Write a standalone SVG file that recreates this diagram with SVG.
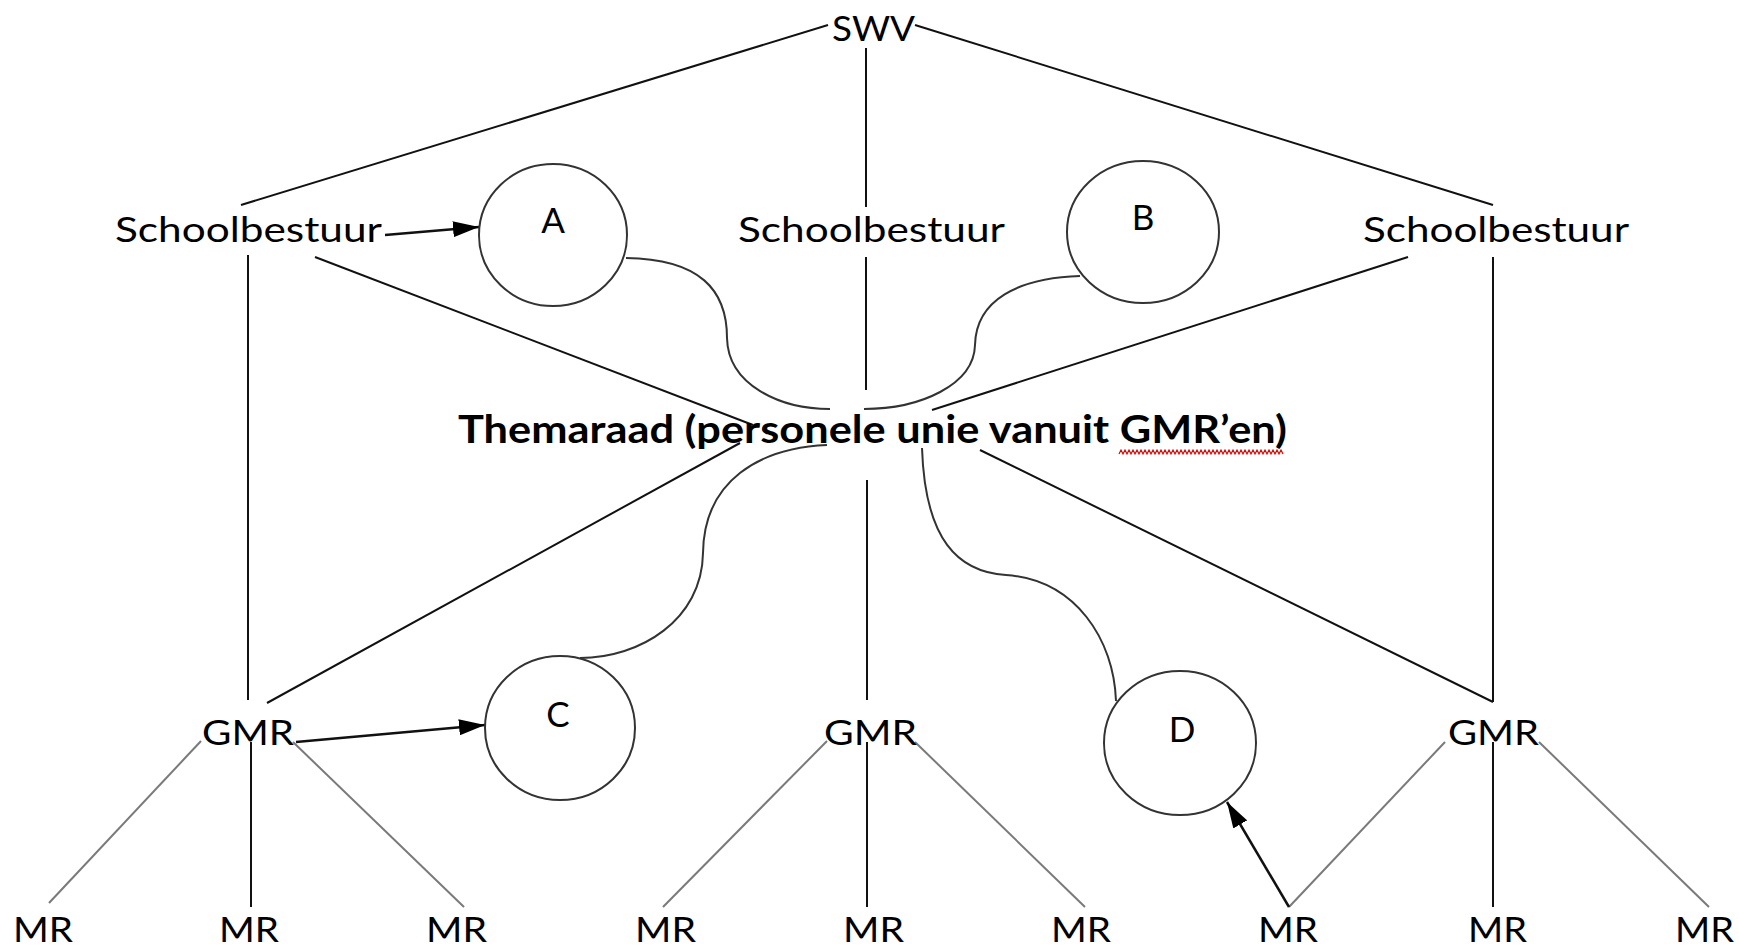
<svg xmlns="http://www.w3.org/2000/svg" width="1739" height="947" viewBox="0 0 1739 947">
<style>
.t{font-family:Lato,"Liberation Sans",sans-serif;font-size:35px;fill:#000}
.tb{font-family:Lato,"Liberation Sans",sans-serif;font-size:39px;font-weight:bold;fill:#000}
.ln{stroke:#111;stroke-width:2;fill:none}
.gr{stroke:#7a7a7a;stroke-width:2;fill:none}
.cv{stroke:#333;stroke-width:2;fill:none}
.ci{stroke:#333;stroke-width:2;fill:#fff}
.ar{stroke:#111;stroke-width:2.5;fill:none;marker-end:url(#ah)}
</style>
<defs>
<marker id="ah" markerUnits="userSpaceOnUse" markerWidth="26" markerHeight="16" refX="26" refY="8" orient="auto">
<path d="M0,0 L26,8 L0,16 z" fill="#000"/>
</marker>
</defs>
<rect width="1739" height="947" fill="#fff"/>
<g id="connectors">
<line class="ln" x1="828" y1="25" x2="241" y2="205"/>
<line class="ln" x1="866" y1="48" x2="866" y2="207"/>
<line class="ln" x1="915" y1="25" x2="1493" y2="205"/>
<line class="ln" x1="866" y1="257" x2="866" y2="390"/>
<line class="ln" x1="248" y1="255" x2="248" y2="700"/>
<line class="ln" x1="315" y1="257" x2="753" y2="425"/>
<line class="ln" x1="1408" y1="257" x2="932" y2="410"/>
<line class="ln" x1="1493" y1="257" x2="1493" y2="702"/>
<line class="ln" x1="740" y1="443" x2="267" y2="703"/>
<line class="ln" x1="867" y1="480" x2="867" y2="700"/>
<line class="ln" x1="980" y1="450" x2="1493" y2="702"/>
<line class="ln" x1="251" y1="742" x2="251" y2="907"/>
<line class="ln" x1="867" y1="742" x2="867" y2="907"/>
<line class="ln" x1="1493" y1="742" x2="1493" y2="907"/>
<line class="gr" x1="201" y1="741" x2="49" y2="903"/>
<line class="gr" x1="293" y1="742" x2="464" y2="907"/>
<line class="gr" x1="827" y1="741" x2="663" y2="907"/>
<line class="gr" x1="915" y1="742" x2="1085" y2="907"/>
<line class="gr" x1="1445" y1="742" x2="1289" y2="907"/>
<line class="gr" x1="1539" y1="742" x2="1709" y2="907"/>
<path class="cv" d="M626,258 C700,259 727,290 727,338 C728,385 780,409 830,409"/>
<path class="cv" d="M1080,276 C1018,278 976,300 975,345 C974,385 920,409 864,409"/>
<path class="cv" d="M827,445 C760,448 704,480 703,553 C702,620 640,658 580,658"/>
<path class="cv" d="M922,448 C925,540 958,572 1006,575 C1076,580 1114,640 1116,701"/>
<line class="ar" x1="385" y1="235" x2="479" y2="227"/>
<line class="ar" x1="296" y1="742" x2="485" y2="725"/>
<line class="ar" x1="1289" y1="907" x2="1227" y2="802"/>
</g>
<g id="swv"><text class="t" x="832" y="41" textLength="83" lengthAdjust="spacingAndGlyphs">SWV</text></g>
<g id="sb1"><text class="t" x="115" y="242" textLength="267" lengthAdjust="spacingAndGlyphs">Schoolbestuur</text></g>
<g id="sb2"><text class="t" x="738" y="242" textLength="267" lengthAdjust="spacingAndGlyphs">Schoolbestuur</text></g>
<g id="sb3"><text class="t" x="1363" y="242" textLength="266" lengthAdjust="spacingAndGlyphs">Schoolbestuur</text></g>
<g id="circleA"><ellipse class="ci" cx="553" cy="235" rx="74" ry="71"/><text class="t" x="553" y="233" text-anchor="middle">A</text></g>
<g id="circleB"><ellipse class="ci" cx="1143" cy="232" rx="76" ry="71"/><text class="t" x="1143" y="230" text-anchor="middle">B</text></g>
<g id="themaraad">
<text class="tb" x="458" y="443" textLength="829" lengthAdjust="spacingAndGlyphs">Themaraad (personele unie vanuit GMR’en)</text>
<path d="M1119,454 l2,-4 l2,4 l2,-4 l2,4 l2,-4 l2,4 l2,-4 l2,4 l2,-4 l2,4 l2,-4 l2,4 l2,-4 l2,4 l2,-4 l2,4 l2,-4 l2,4 l2,-4 l2,4 l2,-4 l2,4 l2,-4 l2,4 l2,-4 l2,4 l2,-4 l2,4 l2,-4 l2,4 l2,-4 l2,4 l2,-4 l2,4 l2,-4 l2,4 l2,-4 l2,4 l2,-4 l2,4 l2,-4 l2,4 l2,-4 l2,4 l2,-4 l2,4 l2,-4 l2,4 l2,-4 l2,4 l2,-4 l2,4 l2,-4 l2,4 l2,-4 l2,4 l2,-4 l2,4 l2,-4 l2,4 l2,-4 l2,4 l2,-4 l2,4 l2,-4 l2,4 l2,-4 l2,4 l2,-4 l2,4 l2,-4 l2,4 l2,-4 l2,4 l2,-4 l2,4 l2,-4 l2,4 l2,-4 l2,4 l2,-4 l2,4" stroke="#e00000" stroke-width="1.2" fill="none"/>
</g>
<g id="circleC"><ellipse class="ci" cx="560" cy="728" rx="75" ry="72"/><text class="t" x="558" y="727" text-anchor="middle">C</text></g>
<g id="circleD"><ellipse class="ci" cx="1180" cy="743" rx="76" ry="72"/><text class="t" x="1182" y="742" text-anchor="middle">D</text></g>
<g id="gmr1"><text class="t" x="202" y="745" textLength="92" lengthAdjust="spacingAndGlyphs">GMR</text></g>
<g id="gmr2"><text class="t" x="824" y="745" textLength="93" lengthAdjust="spacingAndGlyphs">GMR</text></g>
<g id="gmr3"><text class="t" x="1448" y="745" textLength="91" lengthAdjust="spacingAndGlyphs">GMR</text></g>
<g id="mr1"><text class="t" x="13" y="942" textLength="60" lengthAdjust="spacingAndGlyphs">MR</text></g>
<g id="mr2"><text class="t" x="219" y="942" textLength="60" lengthAdjust="spacingAndGlyphs">MR</text></g>
<g id="mr3"><text class="t" x="426" y="942" textLength="61" lengthAdjust="spacingAndGlyphs">MR</text></g>
<g id="mr4"><text class="t" x="635" y="942" textLength="61" lengthAdjust="spacingAndGlyphs">MR</text></g>
<g id="mr5"><text class="t" x="843" y="942" textLength="61" lengthAdjust="spacingAndGlyphs">MR</text></g>
<g id="mr6"><text class="t" x="1051" y="942" textLength="60" lengthAdjust="spacingAndGlyphs">MR</text></g>
<g id="mr7"><text class="t" x="1258" y="942" textLength="60" lengthAdjust="spacingAndGlyphs">MR</text></g>
<g id="mr8"><text class="t" x="1468" y="942" textLength="59" lengthAdjust="spacingAndGlyphs">MR</text></g>
<g id="mr9"><text class="t" x="1675" y="942" textLength="59" lengthAdjust="spacingAndGlyphs">MR</text></g>
</svg>
